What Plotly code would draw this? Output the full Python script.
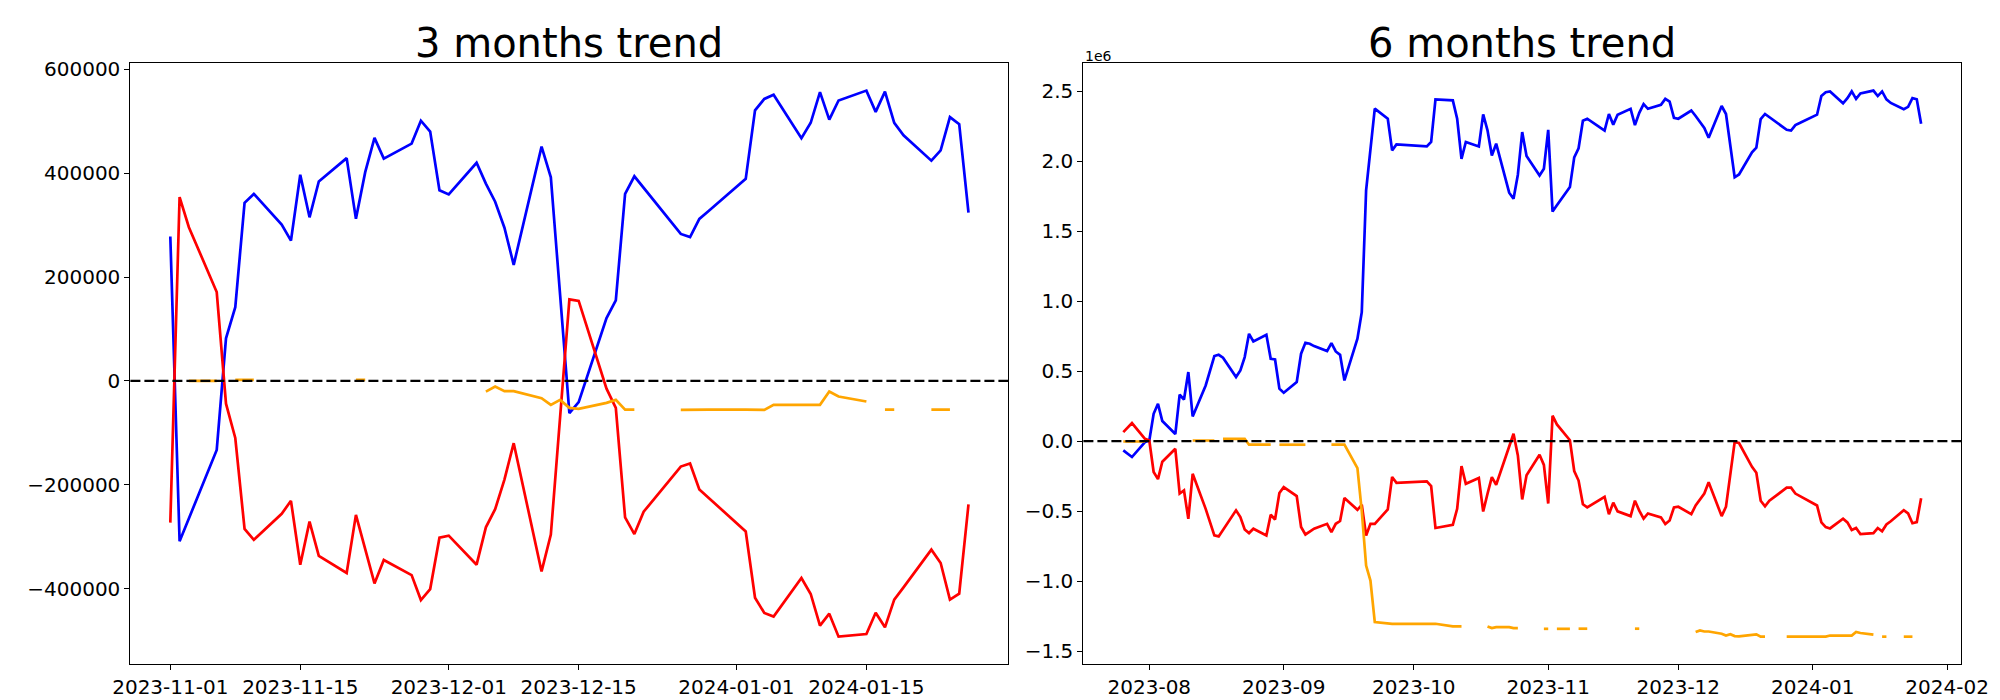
import pandas as pd
import plotly.graph_objects as go

# ---------------- 3 months (values in units) ----------------
dates_3m = pd.bdate_range("2023-11-01", "2024-01-26").drop(pd.to_datetime(["2023-12-25", "2024-01-01"]))

blue_3m = [
    # Nov
    278000, -309000, -265000, -133000, 82000, 142000, 343000, 360000, 301000, 270000,
    397000, 315000, 384000, 429000, 312000, 402000, 468000, 428000, 457000, 501000,
    480000, 367000,
    # Dec
    359000, 420000, 380000, 345000, 295000, 223500, 451000, 392000, 165000, -62000,
    -41000, 121000, 155000, 360000, 394000, 372000, 283000, 277000, 312000, 327000,
    # Jan
    389000, 521000, 543000, 551000, 467500, 497000, 556000, 503000, 540000, 559000,
    518000, 557000, 497000, 473000, 424000, 444000, 508000, 494500, 324000,
]
red_3m = [
    -273000, 354000, 296000, 171000, -44000, -110000, -285000, -306000, -256000, -231000,
    -354000, -271000, -337000, -370000, -258000, -324000, -390000, -345000, -374000, -422000,
    -401000, -302000,
    -298000, -354000, -282000, -247000, -190000, -120000, -367000, -296000, -72000, 157000,
    154000, -15000, -52000, -263000, -295000, -252000, -165000, -159000, -209000, -225000,
    -290000, -417500, -447000, -454000, -379600, -410400, -471400, -448300, -492600, -487500,
    -446400, -474600, -421300, -397600, -325000, -350700, -421300, -409800, -238000,
]
N = None
orange_3m = [
    N, N, 0, 0, N, 2000, 2000, 2000, N, N,
    N, N, N, N, 2000, 2000, N, N, N, N,
    N, N,
    N, N, -20600, -11000, -19900, -19900, -33400, -46200, -36600, -52000,
    -54000, -42400, -36600, -55300, -55300, N, -55900, -55300, -55300, -55300,
    -55300, -55300, -55900, -46200, -46200, -46200, -46200, -20600, -30200, -39800,
    N, -55300, -55300, N, -55300, -55300, -55300, N, N,
]

# ---------------- 6 months (values in millions, axis offset 1e6) ----------------
dates_6m = pd.bdate_range("2023-07-26", "2024-01-26").drop(pd.to_datetime([
    "2023-09-28", "2023-09-29", "2023-10-02", "2023-10-03", "2023-10-09",
    "2023-12-25", "2024-01-01"]))

blue_6m = [
    # Jul 26-31
    -0.067, -0.090, -0.114, -0.007,
    # Aug
    0.004, 0.195, 0.266, 0.143, 0.050, 0.331, 0.297, 0.493, 0.176, 0.397,
    0.502, 0.607, 0.616, 0.595, 0.457, 0.504, 0.600, 0.766, 0.711, 0.759,
    0.588, 0.583, 0.374,
    # Sep
    0.345, 0.421, 0.624, 0.702, 0.695, 0.678, 0.643, 0.700, 0.640, 0.616,
    0.433, 0.731, 0.921, 1.790, 2.088, 2.374, 2.302, 2.076, 2.119,
    # Oct
    2.104, 2.136, 2.440, 2.433, 2.302, 2.016, 2.136, 2.104, 2.333, 2.219,
    2.040, 2.124, 1.774, 1.731, 1.902, 2.207, 2.036, 1.897, 1.945,
    # Nov
    2.223, 1.639, 1.684, 1.814, 2.026, 2.091, 2.288, 2.302, 2.238, 2.218,
    2.336, 2.260, 2.331, 2.373, 2.257, 2.344, 2.406, 2.373, 2.401, 2.444,
    2.424, 2.308,
    # Dec
    2.302, 2.361, 2.322, 2.279, 2.237, 2.166, 2.393, 2.336, 2.110, 1.884,
    1.904, 2.062, 2.096, 2.299, 2.336, 2.314, 2.223, 2.218, 2.257, 2.271,
    # Jan
    2.331, 2.464, 2.491, 2.497, 2.412, 2.449, 2.497, 2.444, 2.483, 2.503,
    2.464, 2.497, 2.441, 2.415, 2.370, 2.387, 2.449, 2.441, 2.266,
]
red_6m = [
    0.064, 0.096, 0.128, 0.016,
    0.004, -0.221, -0.272, -0.148, -0.055, -0.375, -0.353, -0.555, -0.234, -0.484,
    -0.579, -0.674, -0.681, -0.635, -0.495, -0.543, -0.631, -0.657, -0.626, -0.674,
    -0.526, -0.560, -0.371,
    -0.329, -0.393, -0.614, -0.667, -0.646, -0.626, -0.591, -0.650, -0.591, -0.571,
    -0.407, -0.491, -0.455, -0.674, -0.591, -0.591, -0.488, -0.257, -0.298,
    -0.288, -0.321, -0.621, -0.598, -0.484, -0.179, -0.305, -0.264, -0.503, -0.376,
    -0.257, -0.312, -0.038, 0.052, -0.103, -0.417, -0.245, -0.098, -0.170,
    -0.446, 0.181, 0.119, 0.006, -0.214, -0.282, -0.451, -0.474, -0.418, -0.398,
    -0.522, -0.440, -0.502, -0.536, -0.426, -0.497, -0.554, -0.517, -0.545, -0.593,
    -0.567, -0.474,
    -0.469, -0.522, -0.460, -0.418, -0.375, -0.294, -0.536, -0.469, -0.237, -0.008,
    -0.014, -0.184, -0.226, -0.426, -0.466, -0.426, -0.333, -0.333, -0.375, -0.392,
    -0.460, -0.581, -0.615, -0.624, -0.554, -0.581, -0.635, -0.621, -0.664, -0.658,
    -0.621, -0.644, -0.596, -0.573, -0.494, -0.517, -0.587, -0.579, -0.409,
]
orange_6m = [
    -0.003, -0.003, -0.003, -0.003,
    N, N, N, N, N, N, N, N, 0.004, 0.004,
    0.004, 0.004, N, 0.016, 0.016, 0.016, 0.016, -0.026, -0.026, -0.026,
    -0.026, N, -0.026,
    -0.026, -0.026, -0.026, -0.026, N, N, N, -0.026, -0.026, -0.026,
    -0.026, -0.193, -0.500, -0.889, -0.996, -1.293, -1.305, -1.305, -1.305,
    -1.305, -1.305, -1.305, -1.324, -1.324, -1.324, N, N, N, -1.324,
    -1.336, -1.329, -1.329, -1.336, -1.336, N, N, N, -1.341,
    -1.341, N, -1.341, -1.341, N, -1.340, -1.340, -1.340, N, N,
    N, N, N, N, -1.340, -1.340, N, N, N, N,
    N, N,
    N, N, -1.364, -1.352, -1.360, -1.360, -1.376, -1.389, -1.380, -1.393,
    -1.395, -1.386, -1.380, -1.397, -1.397, N, -1.397, -1.397, -1.397, -1.397,
    -1.397, -1.397, -1.397, -1.389, -1.389, -1.389, -1.389, -1.364, -1.371, -1.383,
    N, -1.397, -1.397, N, -1.397, -1.397, -1.397, N, N,
]

for arr in (blue_3m, red_3m, orange_3m):
    assert len(arr) == len(dates_3m), len(arr)
for arr in (blue_6m, red_6m, orange_6m):
    assert len(arr) == len(dates_6m), len(arr)

xt_3m = ["2023-11-01", "2023-11-15", "2023-12-01", "2023-12-15", "2024-01-01", "2024-01-15"]
xt_6m = ["2023-08-01", "2023-09-01", "2023-10-01", "2023-11-01", "2023-12-01", "2024-01-01", "2024-02-01"]
xt_6m_text = ["2023-08", "2023-09", "2023-10", "2023-11", "2023-12", "2024-01", "2024-02"]
yt_3m = [-400000, -200000, 0, 200000, 400000, 600000]
yt_6m = [-1.5, -1.0, -0.5, 0.0, 0.5, 1.0, 1.5, 2.0, 2.5]


def minus(s):
    return s.replace("-", "\u2212")


def padded(lo, hi, frac=0.05):
    span = hi - lo
    return [lo - frac * span, hi + frac * span]


def vals(*arrs):
    return [v for a in arrs for v in a if v is not None]


fig = go.Figure()
LW = 2.7
for xs, series, ax in ((dates_3m, (blue_3m, red_3m, orange_3m), ("x", "y")),
                       (dates_6m, (blue_6m, red_6m, orange_6m), ("x2", "y2"))):
    for ys, col in zip(series, ("blue", "red", "orange")):
        fig.add_trace(go.Scatter(x=xs, y=ys, mode="lines", line=dict(color=col, width=LW),
                                 connectgaps=False, showlegend=False, xaxis=ax[0], yaxis=ax[1]))

v3 = vals(blue_3m, red_3m, orange_3m)
v6 = vals(blue_6m, red_6m, orange_6m)
span3 = dates_3m[-1] - dates_3m[0]
span6 = dates_6m[-1] - dates_6m[0]

axis_common = dict(showline=True, mirror=True, linecolor="black", linewidth=1.1,
                   ticks="outside", ticklen=5, tickwidth=1.1, tickcolor="black",
                   showgrid=False, zeroline=False, automargin=False,
                   tickfont=dict(family="DejaVu Sans", size=20, color="black"))

fig.update_layout(
    template="none",
    width=2000, height=700, margin=dict(l=0, r=0, t=0, b=0, pad=0),
    font=dict(family="DejaVu Sans", color="black"),
    paper_bgcolor="white", plot_bgcolor="white",
    xaxis=dict(domain=[0.0612, 0.5002], anchor="y",
               range=[dates_3m[0] - 0.05 * span3, dates_3m[-1] + 0.05 * span3],
               tickmode="array", tickvals=xt_3m, ticktext=xt_3m, **axis_common),
    yaxis=dict(domain=[0.0629, 0.921], anchor="x", range=padded(min(v3), max(v3)),
               tickmode="array", tickvals=yt_3m, ticktext=[minus(str(v)) for v in yt_3m],
               **axis_common),
    xaxis2=dict(domain=[0.5377, 0.9765], anchor="y2",
                range=[dates_6m[0] - 0.05 * span6, dates_6m[-1] + 0.05 * span6],
                tickmode="array", tickvals=xt_6m, ticktext=xt_6m_text, **axis_common),
    yaxis2=dict(domain=[0.0629, 0.921], anchor="x2", range=padded(min(v6), max(v6)),
                tickmode="array", tickvals=yt_6m, ticktext=[minus(f"{v:.1f}") for v in yt_6m],
                **axis_common),
)

for xr, yr in (("x domain", "y"), ("x2 domain", "y2")):
    fig.add_shape(type="line", xref=xr, yref=yr, x0=0, x1=1, y0=0, y1=0, layer="above",
                  line=dict(color="black", width=2.2, dash="10px,4px"))

title_font = dict(family="DejaVu Sans", size=40, color="black")
fig.add_annotation(text="3 months trend", xref="paper", yref="paper", x=(0.0612 + 0.5002) / 2,
                   y=1 - 60 / 700, xanchor="center", yanchor="bottom", showarrow=False, font=title_font)
fig.add_annotation(text="6 months trend", xref="paper", yref="paper", x=(0.5377 + 0.9765) / 2,
                   y=1 - 60 / 700, xanchor="center", yanchor="bottom", showarrow=False, font=title_font)
fig.add_annotation(text="1e6", xref="paper", yref="paper", x=0.5377, y=1 - 58 / 700,
                   xanchor="left", yanchor="bottom", showarrow=False,
                   font=dict(family="DejaVu Sans", size=14, color="black"))

fig.write_html("out.html")
